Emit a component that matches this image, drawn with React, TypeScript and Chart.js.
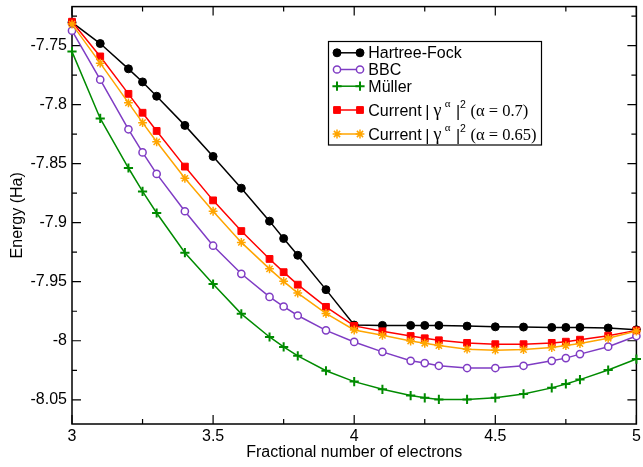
import React, { useEffect, useRef } from "react";
import { Chart, registerables } from "chart.js";

Chart.register(...registerables);

const SANS = "'Liberation Sans', Arial, Helvetica, sans-serif";
const SERIF = "'Liberation Serif', 'Times New Roman', serif";

const xValues = [3, 3.1, 3.2, 3.25, 3.3, 3.4, 3.5, 3.6, 3.7, 3.75, 3.8, 3.9, 4, 4.1, 4.2, 4.25, 4.3, 4.4, 4.5, 4.6, 4.7, 4.75, 4.8, 4.9, 5];

const hartreeFock = [-7.7304, -7.7483, -7.7697, -7.7808, -7.7929, -7.8176, -7.8439, -7.8708, -7.8987, -7.9134, -7.9276, -7.9567, -7.9867, -7.987, -7.987, -7.987, -7.987, -7.9876, -7.9882, -7.9884, -7.9887, -7.9887, -7.9887, -7.9892, -7.9907];
const bbc = [-7.7374, -7.7789, -7.8209, -7.8405, -7.8587, -7.8903, -7.9195, -7.9433, -7.9629, -7.971, -7.9786, -7.9912, -8.001, -8.0094, -8.017, -8.0189, -8.0212, -8.0231, -8.0231, -8.0212, -8.017, -8.0147, -8.0113, -8.005, -7.996];
const muller = [-7.7551, -7.8117, -7.8537, -7.8735, -7.8918, -7.9254, -7.952, -7.9772, -7.9968, -8.0052, -8.0128, -8.0254, -8.0346, -8.0411, -8.0464, -8.0483, -8.0497, -8.0497, -8.0483, -8.045, -8.0399, -8.0366, -8.0329, -8.0248, -8.0155];
const current07 = [-7.7298, -7.7592, -7.7909, -7.8069, -7.8223, -7.8525, -7.8811, -7.9071, -7.9307, -7.9419, -7.9525, -7.9713, -7.9874, -7.992, -7.996, -7.9979, -7.9996, -8.0018, -8.0029, -8.0029, -8.0018, -8.0008, -7.9991, -7.9957, -7.9912];
const current065 = [-7.7318, -7.7649, -7.7985, -7.8153, -7.8315, -7.8624, -7.8903, -7.9167, -7.9391, -7.9497, -7.9596, -7.9769, -7.9909, -7.9954, -8.0002, -8.0021, -8.0041, -8.0071, -8.008, -8.0075, -8.0058, -8.0041, -8.0024, -7.9979, -7.9918];

const xTickValues = [3, 3.5, 4, 4.5, 5];
const xTickLabels = ["3", "3.5", "4", "4.5", "5"];
const xMinorTicks = [3.25, 3.75, 4.25, 4.75];
const yTickValues = [-7.75, -7.8, -7.85, -7.9, -7.95, -8, -8.05];
const yTickLabels = ["-7.75", "-7.8", "-7.85", "-7.9", "-7.95", "-8", "-8.05"];
const yMinorTicks = [-7.725, -7.775, -7.825, -7.875, -7.925, -7.975, -8.025];

const xTitle = "Fractional number of electrons";
const yTitle = "Energy (Ha)";
const seriesNames = ["Hartree-Fock", "BBC", "Müller", "Current", "Current"];
const alphaLabels = ["", "", "", "(α = 0.7)", "(α = 0.65)"];

type SeriesStyle = { color: string; style: string; radius: number; fill: string; lw: number };
const styles: SeriesStyle[] = [
  { color: "#000000", style: "circle", radius: 4, fill: "#000000", lw: 1 },
  { color: "#7f3cc4", style: "circle", radius: 3.6, fill: "#ffffff", lw: 1.5 },
  { color: "#008b00", style: "cross", radius: 4.6, fill: "#008b00", lw: 2 },
  { color: "#ff0000", style: "rect", radius: 4.8, fill: "#ff0000", lw: 1 },
  { color: "#ffa500", style: "star", radius: 4.4, fill: "#ffa500", lw: 1.5 },
];
const seriesValues = [hartreeFock, bbc, muller, current07, current065];

function drawMarker(ctx: CanvasRenderingContext2D, s: SeriesStyle, x: number, y: number) {
  ctx.save();
  ctx.strokeStyle = s.color;
  ctx.fillStyle = s.fill;
  ctx.lineWidth = s.lw;
  const r = s.radius;
  ctx.beginPath();
  if (s.style === "circle") {
    ctx.arc(x, y, r, 0, Math.PI * 2);
    ctx.fill();
    ctx.stroke();
  } else if (s.style === "rect") {
    const h = r * Math.SQRT1_2;
    ctx.rect(x - h, y - h, 2 * h, 2 * h);
    ctx.fill();
    ctx.stroke();
  } else if (s.style === "cross") {
    ctx.moveTo(x - r, y);
    ctx.lineTo(x + r, y);
    ctx.moveTo(x, y - r);
    ctx.lineTo(x, y + r);
    ctx.stroke();
  } else {
    for (let k = 0; k < 4; k++) {
      const a = (k * Math.PI) / 4;
      ctx.moveTo(x - r * Math.cos(a), y - r * Math.sin(a));
      ctx.lineTo(x + r * Math.cos(a), y + r * Math.sin(a));
    }
    ctx.stroke();
  }
  ctx.restore();
}

const framePlugin = {
  id: "frameTicks",
  beforeDatasetsDraw(chart: any) {
    const { ctx, chartArea } = chart;
    const { left, right, top, bottom } = chartArea;
    const xs = chart.scales.x;
    const ys = chart.scales.y;
    ctx.save();
    ctx.strokeStyle = "#000";
    ctx.lineWidth = 1.5;
    ctx.strokeRect(left, top, right - left, bottom - top);
    ctx.lineWidth = 1.2;
    ctx.beginPath();
    const xt = (v: number, len: number) => {
      const px = xs.getPixelForValue(v);
      ctx.moveTo(px, bottom);
      ctx.lineTo(px, bottom - len);
      ctx.moveTo(px, top);
      ctx.lineTo(px, top + len);
    };
    const yt = (v: number, len: number) => {
      const py = ys.getPixelForValue(v);
      ctx.moveTo(left, py);
      ctx.lineTo(left + len, py);
      ctx.moveTo(right, py);
      ctx.lineTo(right - len, py);
    };
    xTickValues.forEach((v) => xt(v, 9));
    xMinorTicks.forEach((v) => xt(v, 5));
    yTickValues.forEach((v) => yt(v, 9));
    yMinorTicks.forEach((v) => yt(v, 5));
    ctx.stroke();
    ctx.restore();
  },
  afterDatasetsDraw(chart: any) {
    const ctx: CanvasRenderingContext2D = chart.ctx;
    const bx = 328.5;
    const by = 41.5;
    const bw = 213;
    const bh = 103.5;
    ctx.save();
    ctx.fillStyle = "#fff";
    ctx.fillRect(bx, by, bw, bh);
    ctx.strokeStyle = "#000";
    ctx.lineWidth = 1.2;
    ctx.strokeRect(bx, by, bw, bh);
    const baselines = [58.3, 75, 91.7, 115.5, 139.5];
    const lineX0 = 337;
    const lineX1 = 360;
    const textX = 368.3;
    ctx.textBaseline = "alphabetic";
    ctx.textAlign = "left";
    for (let i = 0; i < 5; i++) {
      const s = styles[i];
      const base = baselines[i];
      const ly = base - 5.5;
      ctx.strokeStyle = s.color;
      ctx.lineWidth = 1.5;
      ctx.beginPath();
      ctx.moveTo(lineX0, ly);
      ctx.lineTo(lineX1, ly);
      ctx.stroke();
      drawMarker(ctx, s, lineX0, ly);
      drawMarker(ctx, s, lineX1, ly);
      ctx.fillStyle = "#000";
      ctx.textAlign = "left";
      ctx.font = `16px ${SANS}`;
      ctx.fillText(seriesNames[i], textX, base);
      if (alphaLabels[i]) {
        ctx.textAlign = "center";
        ctx.fillText("|", 427.3, base + 1);
        ctx.fillText("|", 458, base + 1);
        ctx.textAlign = "left";
        ctx.font = `18px ${SERIF}`;
        ctx.fillText("γ", 433.5, base);
        ctx.font = `11px ${SERIF}`;
        ctx.fillText("α", 444.8, base - 9);
        ctx.font = `10.5px ${SANS}`;
        ctx.fillText("2", 460, base - 8);
        ctx.font = `16.5px ${SERIF}`;
        ctx.fillText(alphaLabels[i], 470.5, base);
      }
    }
    ctx.restore();
  },
};

export default function App() {
  const ref = useRef<HTMLCanvasElement | null>(null);
  useEffect(() => {
    if (!ref.current) return;
    const datasets = seriesValues.map((vals, i) => {
      const s = styles[i];
      return {
        label: seriesNames[i] + (alphaLabels[i] ? " " + alphaLabels[i] : ""),
        data: xValues.map((x, j) => ({ x, y: vals[j] })),
        borderColor: s.color,
        backgroundColor: s.fill,
        borderWidth: 1.5,
        pointStyle: s.style,
        pointRadius: s.radius,
        pointBorderWidth: s.lw,
        pointBackgroundColor: s.fill,
        pointBorderColor: s.color,
        showLine: true,
        tension: 0,
        clip: false as any,
        order: 5 - i,
      };
    });
    const chart = new Chart(ref.current, {
      type: "scatter",
      data: { datasets },
      options: {
        animation: false,
        responsive: false,
        layout: { padding: { top: 3, right: 1, left: 0, bottom: 0 } },
        plugins: {
          legend: { display: false },
          tooltip: { enabled: false },
          title: { display: false },
        },
        scales: {
          x: {
            type: "linear",
            min: 3,
            max: 5,
            grid: { display: false, drawTicks: false },
            border: { display: false },
            ticks: {
              font: { family: SANS, size: 16 },
              color: "#000",
              padding: 3,
              autoSkip: false,
              maxRotation: 0,
              callback: (v: any) => {
                const i = xTickValues.indexOf(Number(v));
                return i >= 0 ? xTickLabels[i] : "";
              },
            },
            afterBuildTicks: (s: any) => {
              s.ticks = xTickValues.map((value) => ({ value }));
            },
            afterFit: (s: any) => {
              s.height = 43;
              s.paddingLeft = 0;
              s.paddingRight = 0;
            },
            title: {
              display: true,
              text: xTitle,
              font: { family: SANS, size: 16 },
              color: "#000",
              padding: { top: 0, bottom: 5 },
            },
          },
          y: {
            type: "linear",
            min: -8.0705,
            max: -7.717,
            grid: { display: false, drawTicks: false },
            border: { display: false },
            ticks: {
              font: { family: SANS, size: 16 },
              color: "#000",
              padding: 5,
              autoSkip: false,
              callback: (v: any) => {
                const i = yTickValues.findIndex((t) => Math.abs(t - Number(v)) < 1e-9);
                return i >= 0 ? yTickLabels[i] : "";
              },
            },
            afterBuildTicks: (s: any) => {
              s.ticks = yTickValues.map((value) => ({ value }));
            },
            afterFit: (s: any) => {
              s.width = 72;
              s.paddingTop = 0;
              s.paddingBottom = 0;
            },
            title: {
              display: true,
              text: yTitle,
              font: { family: SANS, size: 16 },
              color: "#000",
              padding: { top: 8, bottom: 0 },
            },
          },
        },
      } as any,
      plugins: [framePlugin],
    });
    return () => chart.destroy();
  }, []);
  return (
    <div style={{ position: "fixed", left: 0, top: 0, width: 643, height: 467, background: "#fff" }}>
      <canvas ref={ref} width={643} height={467} style={{ width: 643, height: 467, display: "block" }} />
    </div>
  );
}
